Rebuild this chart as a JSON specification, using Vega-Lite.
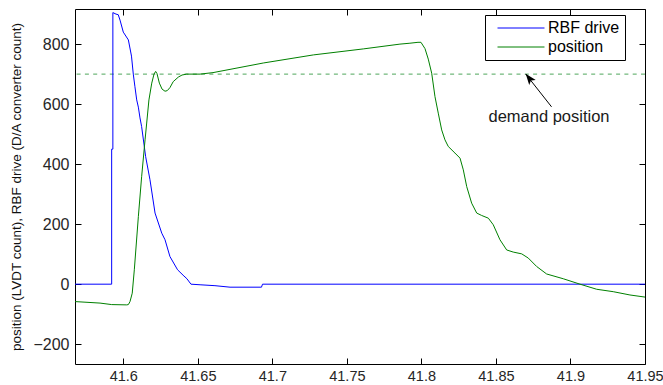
{
  "$schema": "https://vega.github.io/schema/vega-lite/v6.json",
  "width": 570,
  "height": 355,
  "autosize": {"type": "none"},
  "padding": {"left": 75, "top": 9, "right": 18, "bottom": 21},
  "background": "white",
  "config": {
    "view": {"stroke": "#000", "strokeWidth": 1},
    "axis": {
      "labelFont": "Liberation Sans",
      "labelFontSize": 15,
      "labelColor": "#262626",
      "domain": false,
      "ticks": true,
      "tickColor": "#000",
      "tickOpacity": 1,
      "tickWidth": 1,
      "tickSize": 6,
      "offset": -6,
      "grid": false,
      "titleFont": "Liberation Sans",
      "zindex": 1
    }
  },
  "datasets": {
    "series": [
      {"i": 1, "series": "RBF drive", "t": 41.5676, "v": 0},
      {"i": 2, "series": "RBF drive", "t": 41.5922, "v": 0},
      {"i": 3, "series": "RBF drive", "t": 41.5922, "v": 450},
      {"i": 4, "series": "RBF drive", "t": 41.593, "v": 450},
      {"i": 5, "series": "RBF drive", "t": 41.593, "v": 905},
      {"i": 6, "series": "RBF drive", "t": 41.5951, "v": 900},
      {"i": 7, "series": "RBF drive", "t": 41.5966, "v": 898},
      {"i": 8, "series": "RBF drive", "t": 41.5978, "v": 880},
      {"i": 9, "series": "RBF drive", "t": 41.6, "v": 840},
      {"i": 10, "series": "RBF drive", "t": 41.6034, "v": 814},
      {"i": 11, "series": "RBF drive", "t": 41.6055, "v": 760},
      {"i": 12, "series": "RBF drive", "t": 41.6067, "v": 700},
      {"i": 13, "series": "RBF drive", "t": 41.6078, "v": 658},
      {"i": 14, "series": "RBF drive", "t": 41.609, "v": 614},
      {"i": 15, "series": "RBF drive", "t": 41.6101, "v": 590},
      {"i": 16, "series": "RBF drive", "t": 41.6112, "v": 554},
      {"i": 17, "series": "RBF drive", "t": 41.6123, "v": 525},
      {"i": 18, "series": "RBF drive", "t": 41.615, "v": 425},
      {"i": 19, "series": "RBF drive", "t": 41.6179, "v": 348},
      {"i": 20, "series": "RBF drive", "t": 41.6213, "v": 237},
      {"i": 21, "series": "RBF drive", "t": 41.6258, "v": 170},
      {"i": 22, "series": "RBF drive", "t": 41.628, "v": 148},
      {"i": 23, "series": "RBF drive", "t": 41.6313, "v": 92},
      {"i": 24, "series": "RBF drive", "t": 41.6364, "v": 48},
      {"i": 25, "series": "RBF drive", "t": 41.6401, "v": 30},
      {"i": 26, "series": "RBF drive", "t": 41.6427, "v": 18},
      {"i": 27, "series": "RBF drive", "t": 41.6454, "v": 0},
      {"i": 28, "series": "RBF drive", "t": 41.6515, "v": -2},
      {"i": 29, "series": "RBF drive", "t": 41.6615, "v": -5},
      {"i": 30, "series": "RBF drive", "t": 41.6716, "v": -10},
      {"i": 31, "series": "RBF drive", "t": 41.6927, "v": -10},
      {"i": 32, "series": "RBF drive", "t": 41.6934, "v": 0},
      {"i": 33, "series": "RBF drive", "t": 41.95, "v": 0},
      {"i": 101, "series": "position", "t": 41.5676, "v": -58},
      {"i": 102, "series": "position", "t": 41.5743, "v": -60},
      {"i": 103, "series": "position", "t": 41.5844, "v": -63},
      {"i": 104, "series": "position", "t": 41.5922, "v": -68},
      {"i": 105, "series": "position", "t": 41.6023, "v": -69},
      {"i": 106, "series": "position", "t": 41.6034, "v": -68},
      {"i": 107, "series": "position", "t": 41.6045, "v": -58},
      {"i": 108, "series": "position", "t": 41.606, "v": -30},
      {"i": 109, "series": "position", "t": 41.6074, "v": 48},
      {"i": 110, "series": "position", "t": 41.6101, "v": 225},
      {"i": 111, "series": "position", "t": 41.6123, "v": 358},
      {"i": 112, "series": "position", "t": 41.6146, "v": 481},
      {"i": 113, "series": "position", "t": 41.6157, "v": 537},
      {"i": 114, "series": "position", "t": 41.6172, "v": 614},
      {"i": 115, "series": "position", "t": 41.6191, "v": 670},
      {"i": 116, "series": "position", "t": 41.6206, "v": 700},
      {"i": 117, "series": "position", "t": 41.6217, "v": 709},
      {"i": 118, "series": "position", "t": 41.6226, "v": 702},
      {"i": 119, "series": "position", "t": 41.6242, "v": 670},
      {"i": 120, "series": "position", "t": 41.626, "v": 650},
      {"i": 121, "series": "position", "t": 41.628, "v": 643},
      {"i": 122, "series": "position", "t": 41.6295, "v": 645},
      {"i": 123, "series": "position", "t": 41.6313, "v": 655},
      {"i": 124, "series": "position", "t": 41.6335, "v": 675},
      {"i": 125, "series": "position", "t": 41.6369, "v": 690},
      {"i": 126, "series": "position", "t": 41.6394, "v": 697},
      {"i": 127, "series": "position", "t": 41.6425, "v": 700},
      {"i": 128, "series": "position", "t": 41.6515, "v": 700},
      {"i": 129, "series": "position", "t": 41.6602, "v": 705},
      {"i": 130, "series": "position", "t": 41.6939, "v": 737},
      {"i": 131, "series": "position", "t": 41.7275, "v": 764},
      {"i": 132, "series": "position", "t": 41.761, "v": 784},
      {"i": 133, "series": "position", "t": 41.7856, "v": 800},
      {"i": 134, "series": "position", "t": 41.7923, "v": 803},
      {"i": 135, "series": "position", "t": 41.7977, "v": 806},
      {"i": 136, "series": "position", "t": 41.7997, "v": 806},
      {"i": 137, "series": "position", "t": 41.8024, "v": 785},
      {"i": 138, "series": "position", "t": 41.8046, "v": 750},
      {"i": 139, "series": "position", "t": 41.8069, "v": 703},
      {"i": 140, "series": "position", "t": 41.8091, "v": 625},
      {"i": 141, "series": "position", "t": 41.8113, "v": 570},
      {"i": 142, "series": "position", "t": 41.8136, "v": 514},
      {"i": 143, "series": "position", "t": 41.8158, "v": 481},
      {"i": 144, "series": "position", "t": 41.818, "v": 459},
      {"i": 145, "series": "position", "t": 41.8225, "v": 437},
      {"i": 146, "series": "position", "t": 41.8259, "v": 420},
      {"i": 147, "series": "position", "t": 41.8281, "v": 381},
      {"i": 148, "series": "position", "t": 41.8304, "v": 325},
      {"i": 149, "series": "position", "t": 41.8337, "v": 270},
      {"i": 150, "series": "position", "t": 41.8371, "v": 237},
      {"i": 151, "series": "position", "t": 41.8404, "v": 229},
      {"i": 152, "series": "position", "t": 41.8449, "v": 220},
      {"i": 153, "series": "position", "t": 41.8482, "v": 198},
      {"i": 154, "series": "position", "t": 41.8527, "v": 148},
      {"i": 155, "series": "position", "t": 41.8572, "v": 114},
      {"i": 156, "series": "position", "t": 41.8616, "v": 107},
      {"i": 157, "series": "position", "t": 41.8673, "v": 101},
      {"i": 158, "series": "position", "t": 41.8717, "v": 87},
      {"i": 159, "series": "position", "t": 41.8773, "v": 59},
      {"i": 160, "series": "position", "t": 41.884, "v": 34},
      {"i": 161, "series": "position", "t": 41.8952, "v": 18},
      {"i": 162, "series": "position", "t": 41.9064, "v": 0},
      {"i": 163, "series": "position", "t": 41.9176, "v": -17},
      {"i": 164, "series": "position", "t": 41.9287, "v": -25},
      {"i": 165, "series": "position", "t": 41.9399, "v": -36},
      {"i": 166, "series": "position", "t": 41.95, "v": -43}
    ],
    "demand": [{"level": 700}],
    "arrow": [{"tx": 41.8873, "ty": 591, "hx": 41.87, "hy": 700}],
    "head": [{"x": 41.87224, "y": 686.7}],
    "label": [{"x": 41.8856, "y": 542, "text": "demand position"}]
  },
  "layer": [
    {
      "data": {"name": "demand"},
      "mark": {"type": "rule", "strokeDash": [4, 4.3], "color": "#4da65a", "strokeWidth": 1},
      "encoding": {
        "y": {"field": "level", "type": "quantitative", "axis": null}
      }
    },
    {
      "data": {"name": "series"},
      "mark": {"type": "line", "strokeWidth": 1},
      "encoding": {
        "x": {
          "field": "t", "type": "quantitative",
          "scale": {"domain": [41.5676, 41.95], "nice": false, "zero": false},
          "axis": {
            "orient": "bottom", "title": null, "ticks": true, "tickSize": 6,
            "values": [41.6, 41.65, 41.7, 41.75, 41.8, 41.85, 41.9, 41.95],
            "format": ".2~f", "labelPadding": 5, "labelFontSize": 14.5,
            "labelBound": false, "labelFlush": false, "labelOverlap": false
          }
        },
        "y": {
          "field": "v", "type": "quantitative",
          "scale": {"domain": [-266, 917], "nice": false, "zero": false},
          "axis": {
            "orient": "left", "ticks": true, "tickSize": 6,
            "values": [-200, 0, 200, 400, 600, 800],
            "labelPadding": 6, "labelFontSize": 16,
            "title": "position (LVDT count), RBF drive (D/A converter count)",
            "titleFontSize": 13.5, "titleFontWeight": "normal", "titleColor": "#111",
            "titlePadding": 9,
            "labelBound": false, "labelFlush": false, "labelOverlap": false
          }
        },
        "color": {
          "field": "series", "type": "nominal",
          "scale": {"domain": ["RBF drive", "position"], "range": ["#0000ff", "#008000"]},
          "legend": {
            "title": null, "orient": "none", "legendX": 410, "legendY": 6,
            "strokeColor": "#000", "fillColor": "#fff", "padding": 5,
            "symbolType": "M-4.27,0L4.27,0", "symbolSize": 121, "symbolStrokeWidth": 1,
            "symbolOffset": 23, "labelOffset": 19, "rowPadding": 3,
            "labelFont": "Liberation Sans", "labelFontSize": 16, "labelColor": "#000"
          }
        },
        "order": {"field": "i", "type": "quantitative"}
      }
    },
    {
      "data": {"name": "arrow"},
      "mark": {"type": "rule", "color": "#000", "strokeWidth": 1},
      "encoding": {
        "x": {
          "field": "tx", "type": "quantitative",
          "axis": {
            "orient": "top", "title": null, "labels": false, "ticks": true, "tickSize": 6,
            "values": [41.6, 41.65, 41.7, 41.75, 41.8, 41.85, 41.9, 41.95]
          }
        },
        "y": {
          "field": "ty", "type": "quantitative",
          "axis": {
            "orient": "right", "title": null, "labels": false, "ticks": true, "tickSize": 6,
            "values": [-200, 0, 200, 400, 600, 800]
          }
        },
        "x2": {"field": "hx"},
        "y2": {"field": "hy"}
      }
    },
    {
      "data": {"name": "head"},
      "mark": {
        "type": "point", "shape": "M0,-1L0.75,1L0,0.55L-0.75,1Z",
        "filled": true, "color": "#000", "opacity": 1, "size": 121, "angle": 322
      },
      "encoding": {
        "x": {"field": "x", "type": "quantitative", "axis": null},
        "y": {"field": "y", "type": "quantitative", "axis": null}
      }
    },
    {
      "data": {"name": "label"},
      "mark": {
        "type": "text", "font": "Liberation Sans", "fontSize": 16.5,
        "align": "center", "baseline": "alphabetic", "color": "#1a1a1a"
      },
      "encoding": {
        "x": {"field": "x", "type": "quantitative", "axis": null},
        "y": {"field": "y", "type": "quantitative", "axis": null},
        "text": {"field": "text"}
      }
    }
  ]
}
